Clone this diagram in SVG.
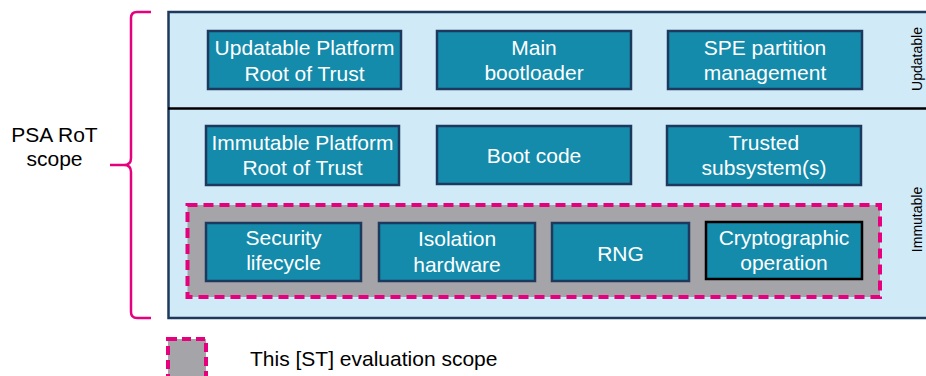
<svg xmlns="http://www.w3.org/2000/svg" width="926" height="376" viewBox="0 0 926 376">
<style>
.box{fill:#148bab;stroke:#1d3a5e;stroke-width:2.5}
.bt{font-family:"Liberation Sans",Arial,sans-serif;font-size:21px;fill:#ffffff;text-anchor:middle}
.lt{font-family:"Liberation Sans",Arial,sans-serif;font-size:21px;fill:#000000}
.vt{font-family:"Liberation Sans",Arial,sans-serif;font-size:14px;fill:#000000;text-anchor:middle}
.scope{fill:#a5a4a8;stroke:#e6007e;stroke-width:4;stroke-dasharray:10 6}
</style>
<rect width="926" height="376" fill="#ffffff"/>
<g id="panel">
<rect x="168.5" y="12" width="762" height="306" fill="#d1eaf8" stroke="#1d3a5e" stroke-width="2.5"/>
<line x1="168" y1="108.5" x2="926" y2="108.5" stroke="#000000" stroke-width="2.5"/>
<text class="vt" transform="translate(922,59) rotate(-90)">Updatable</text>
<text class="vt" transform="translate(922,219.5) rotate(-90)">Immutable</text>
</g>
<g id="brace">
<path d="M151,12 H137 Q131,12 131,18 V158 Q131,165 124,165 H110 M124,165 Q131,165 131,172 V312 Q131,318 137,318 H151" fill="none" stroke="#e6007e" stroke-width="2.5"/>
<text class="lt" x="54.5" y="141.5" text-anchor="middle">PSA RoT</text>
<text class="lt" x="54.5" y="166" text-anchor="middle">scope</text>
</g>
<g id="eval-scope">
<rect class="scope" x="187.5" y="205" width="692.5" height="92"/>
</g>
<g id="updatable-prot">
<rect class="box" x="208" y="31" width="193" height="58"/>
<text class="bt" x="304.5" y="55">Updatable Platform</text>
<text class="bt" x="304.5" y="81">Root of Trust</text>
</g>
<g id="main-bootloader">
<rect class="box" x="437" y="31" width="194" height="58"/>
<text class="bt" x="534" y="55">Main</text>
<text class="bt" x="534" y="80">bootloader</text>
</g>
<g id="spe-partition">
<rect class="box" x="668" y="31" width="194" height="58"/>
<text class="bt" x="765" y="55">SPE partition</text>
<text class="bt" x="765" y="80">management</text>
</g>
<g id="immutable-prot">
<rect class="box" x="206" y="126" width="193" height="59"/>
<text class="bt" x="302.5" y="150">Immutable Platform</text>
<text class="bt" x="302.5" y="175">Root of Trust</text>
</g>
<g id="boot-code">
<rect class="box" x="437" y="126" width="194" height="58"/>
<text class="bt" x="534" y="163">Boot code</text>
</g>
<g id="trusted-subsystems">
<rect class="box" x="667" y="126" width="194" height="59"/>
<text class="bt" x="764" y="150">Trusted</text>
<text class="bt" x="764" y="175">subsystem(s)</text>
</g>
<g id="security-lifecycle">
<rect class="box" x="206" y="223" width="155" height="58"/>
<text class="bt" x="283.5" y="245">Security</text>
<text class="bt" x="283.5" y="269.5">lifecycle</text>
</g>
<g id="isolation-hardware">
<rect class="box" x="379" y="223" width="156" height="58"/>
<text class="bt" x="457" y="246">Isolation</text>
<text class="bt" x="457" y="271.5">hardware</text>
</g>
<g id="rng">
<rect class="box" x="552" y="223" width="137" height="58"/>
<text class="bt" x="620.5" y="260.5">RNG</text>
</g>
<g id="cryptographic-operation">
<rect class="box" x="706" y="222" width="156" height="57" style="stroke:#000000"/>
<text class="bt" x="784" y="245">Cryptographic</text>
<text class="bt" x="784" y="270">operation</text>
</g>
<g id="legend">
<rect class="scope" x="168" y="339" width="38" height="40" style="stroke-dasharray:9 5"/>
<text class="lt" x="250" y="366">This [ST] evaluation scope</text>
</g>
<g id="connectors"></g>
</svg>
